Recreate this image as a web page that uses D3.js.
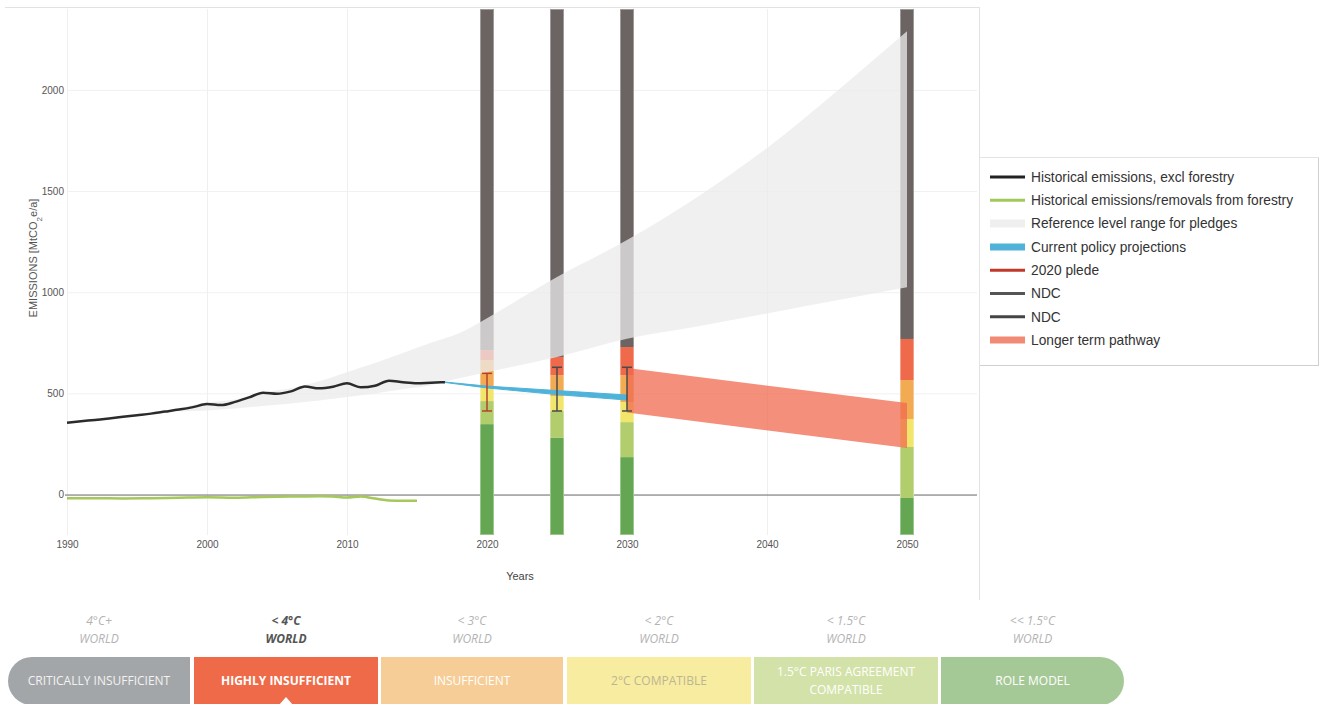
<!DOCTYPE html>
<meta charset="utf-8">
<style>
body { margin: 0; background: #fff; }
svg { display: block; font-family: "Liberation Sans", Arial, sans-serif; }
.axis text { fill: #555; font-size: 10px; }
.axis .domain { display: none; }
.rating text { font-family: "Open Sans", sans-serif; }
</style>
<body>
<svg width="1325" height="704"></svg>
<script src="https://cdnjs.cloudflare.com/ajax/libs/d3/7.8.5/d3.min.js"></script>
<script>
// historical emissions excl forestry
var histYears = [1990,1991,1992,1993,1994,1995,1996,1997,1998,1999,2000,2001,2002,2003,2004,2005,2006,2007,2008,2009,2010,2011,2012,2013,2014,2015,2016,2017];
var histValues = [355,362,369,376,384,392,400,410,420,432,447,442,458,480,503,498,510,534,525,533,550,530,538,563,555,550,553,555];

// forestry
var forYears = [1990,1992,1994,1996,1998,2000,2002,2004,2006,2008,2009,2010,2011,2012,2013,2014,2015];
var forValues = [-18,-18,-19,-18,-16,-14,-16,-12,-10,-8,-10,-15,-10,-20,-29,-31,-31];

// reference level range
var bandYears = [1998,2000,2002,2004,2006,2008,2010,2012,2014,2016,2018,2020,2025,2030,2035,2040,2045,2050];
var bandLow = [410,415,425,438,450,465,482,500,520,540,575,605,680,770,830,895,960,1025];
var bandHigh = [428,455,470,505,525,560,605,650,700,750,797,872,1075,1258,1470,1713,1995,2290];

// current policy projections
var cppYears = [2017,2020,2025,2030];
var cppLow = [554,527,494,467];
var cppHigh = [556,536,514,492];

// stacked rating bars (top of each band)
var barYears = [2020,2025,2030,2050];
var darkGreenTop = [348,280,185,-17];
var lightGreenTop = [462,413,358,235];
var yellowTop = [531,487,457,373];
var orangeTop = [664,590,590,566];
var redTop = [714,680,729,769];

// pledges / NDC ranges
var errYears = [2020,2025,2030];
var errLow = [413,413,413];
var errHigh = [599,629,629];
var errColours = ["#b5432c","#4a4a4a","#4a4a4a"];

// longer term pathway
var ltpYears = [2030,2050];
var ltpLow = [405,230];
var ltpHigh = [625,452];

var legendNames = ["Historical emissions, excl forestry","Historical emissions/removals from forestry","Reference level range for pledges","Current policy projections","2020 plede","NDC","NDC","Longer term pathway"];

var ratingNames = ["CRITICALLY INSUFFICIENT","HIGHLY INSUFFICIENT","INSUFFICIENT","2°C COMPATIBLE","1.5°C PARIS AGREEMENT|COMPATIBLE","ROLE MODEL"];
var ratingTemps = ["4°C+","< 4°C","< 3°C","< 2°C","< 1.5°C","<< 1.5°C"];

var svg = d3.select("svg");

var x = d3.scaleLinear().domain([1990, 2055]).range([67, 977]);
var y = d3.scaleLinear().domain([-200, 2400]).range([535, 9]);

// container border
svg.append("line").attr("x1", 5).attr("x2", 979).attr("y1", 7.5).attr("y2", 7.5)
    .attr("stroke", "#e2e2e2");
svg.append("line").attr("x1", 979.5).attr("x2", 979.5).attr("y1", 7).attr("y2", 600)
    .attr("stroke", "#e2e2e2");

var xaxis = svg.append("g")
    .attr("class", "axis")
    .attr("transform", "translate(0," + y(-200) + ")")
    .call(d3.axisBottom(x).tickValues([1990,2000,2010,2020,2030,2040,2050])
        .tickFormat(d3.format("d")).tickSize(-(y(-200) - y(2400))).tickPadding(6));
xaxis.selectAll("line").attr("stroke", "#efefef");

var yaxis = svg.append("g")
    .attr("class", "axis")
    .attr("transform", "translate(" + x(1990) + ",0)")
    .call(d3.axisLeft(y).tickValues([0,500,1000,1500,2000])
        .tickFormat(d3.format("d"))
        .tickSize(-(x(2055) - x(1990))).tickPadding(3));
yaxis.selectAll("line").attr("stroke", "#f1f1f1");
yaxis.selectAll(".tick").filter(function(d){ return d == 0; }).select("line")
    .attr("stroke", "#666").attr("x1", -2);

// axis titles
var ytitle = svg.append("text")
    .attr("transform", "translate(37," + 258 + ") rotate(-90)")
    .attr("text-anchor", "middle")
    .attr("fill", "#555")
    .style("font-size", "11px");
ytitle.append("tspan").text("EMISSIONS [MtCO");
ytitle.append("tspan").text("2").attr("baseline-shift", "sub").style("font-size", "8px");
ytitle.append("tspan").text("e/a]");

svg.append("text").attr("x", 520).attr("y", 580)
    .attr("text-anchor", "middle").attr("fill", "#444")
    .style("font-size", "11px").text("Years");

// stacked bars
var segColours = ["#64a651","#b1cd6c","#f2e56b","#f2ab53","#ef6a4b","#6b6463"];
var segs = [];
barYears.forEach(function(yr, i) {
    var levels = [-200, darkGreenTop[i], lightGreenTop[i], yellowTop[i], orangeTop[i], redTop[i], 2400];
    for (var k = 0; k < 6; k++) {
        segs.push({year: yr, y0: levels[k], y1: levels[k+1], colour: segColours[k]});
    }
});

svg.append("g").selectAll("rect").data(segs).enter().append("rect")
    .attr("x", function(d){ return x(d.year - 0.5); })
    .attr("width", function(d){ return x(d.year + 0.5) - x(d.year - 0.5); })
    .attr("y", function(d){ return y(d.y1); })
    .attr("height", function(d){ return y(d.y0) - y(d.y1); })
    .attr("fill", function(d){ return d.colour; });

svg.append("g").selectAll("rect").data(barYears).enter().append("rect")
    .attr("x", function(d){ return x(d - 0.5) + 0.5; })
    .attr("width", function(d){ return x(d + 0.5) - x(d - 0.5) - 1; })
    .attr("y", y(2400) + 0.5)
    .attr("height", y(-200) - y(2400) - 1)
    .attr("fill", "none")
    .attr("stroke", "rgba(255,255,255,0.35)");

// reference range band
var bandData = bandYears.map(function(d, i){ return {year: d, low: bandLow[i], high: bandHigh[i]}; });
svg.append("path").datum(bandData)
    .attr("fill", "#ebebeb")
    .attr("fill-opacity", 0.75)
    .attr("d", d3.area().curve(d3.curveMonotoneX)
        .x(function(d){ return x(d.year); })
        .y0(function(d){ return y(d.low); })
        .y1(function(d){ return y(d.high); }));

// historical lines
var line = d3.line().curve(d3.curveMonotoneX)
    .x(function(d){ return x(d[0]); })
    .y(function(d){ return y(d[1]); });

svg.append("path").datum(forYears.map(function(d, i){ return [d, forValues[i]]; }))
    .attr("fill", "none").attr("stroke", "#a5c85a").attr("stroke-width", 2.5)
    .attr("d", line);

svg.append("path").datum(histYears.map(function(d, i){ return [d, histValues[i]]; }))
    .attr("fill", "none").attr("stroke", "#2b2b2b").attr("stroke-width", 2.5)
    .attr("d", line);

// current policy projections
var cppData = cppYears.map(function(d, i){ return {year: d, low: cppLow[i], high: cppHigh[i]}; });
svg.append("path").datum(cppData)
    .attr("fill", "#4fb3d9")
    .attr("stroke", "#4fb3d9")
    .attr("stroke-width", 1)
    .attr("d", d3.area()
        .x(function(d){ return x(d.year); })
        .y0(function(d){ return y(d.low); })
        .y1(function(d){ return y(d.high); }));

// longer term pathway
var ltpData = ltpYears.map(function(d, i){ return {year: d, low: ltpLow[i], high: ltpHigh[i]}; });
svg.append("path").datum(ltpData)
    .attr("fill", "#f06a50")
    .attr("fill-opacity", 0.75)
    .attr("d", d3.area()
        .x(function(d){ return x(d.year); })
        .y0(function(d){ return y(d.low); })
        .y1(function(d){ return y(d.high); }));

// error bars
var errs = svg.append("g").selectAll("g").data(errYears).enter().append("g")
    .attr("stroke", function(d, i){ return errColours[i]; })
    .attr("stroke-width", 1.5);
errs.append("line")
    .attr("x1", function(d){ return x(d); }).attr("x2", function(d){ return x(d); })
    .attr("y1", function(d, i){ return y(errLow[i]); })
    .attr("y2", function(d, i){ return y(errHigh[i]); });
errs.append("line")
    .attr("x1", function(d){ return x(d) - 5; }).attr("x2", function(d){ return x(d) + 5; })
    .attr("y1", function(d, i){ return y(errLow[i]); })
    .attr("y2", function(d, i){ return y(errLow[i]); });
errs.append("line")
    .attr("x1", function(d){ return x(d) - 5; }).attr("x2", function(d){ return x(d) + 5; })
    .attr("y1", function(d, i){ return y(errHigh[i]); })
    .attr("y2", function(d, i){ return y(errHigh[i]); });

// legend
var legend = svg.append("g").attr("transform", "translate(979,157)");
legend.append("rect").attr("x", 0.5).attr("y", 0.5).attr("width", 339).attr("height", 208)
    .attr("fill", "#fff").attr("stroke", "#e4e4e4");
legend.append("line").attr("x1", 339.5).attr("x2", 339.5).attr("y1", 1).attr("y2", 209)
    .attr("stroke", "#cfcfcf");
legend.append("line").attr("x1", 1).attr("x2", 340).attr("y1", 208.5).attr("y2", 208.5)
    .attr("stroke", "#cfcfcf");
var swatchColours = ["#222","#a5c85a","#efefef","#4fb3d9","#c0392b","#555","#444","#f28b76"];
var swatchWidths = [3,3,8,7,3,3,3,7];
var items = legend.selectAll("g.item").data(legendNames).enter().append("g")
    .attr("class", "item")
    .attr("transform", function(d, i){ return "translate(0," + (20 + i * 23.3) + ")"; });
items.append("line")
    .attr("x1", 11).attr("x2", 46)
    .attr("stroke", function(d, i){ return swatchColours[i]; })
    .attr("stroke-width", function(d, i){ return swatchWidths[i]; });
items.append("text")
    .attr("x", 52).attr("dy", "0.35em")
    .attr("fill", "#333")
    .style("font-size", "13.75px")
    .text(function(d){ return d; });

// rating bar
var ratingX = [8,194,381,567,754,941];
var ratingW = [182,184,182,184,184,183];
var ratingFill = ["#a3a6a8","#ef6a48","#f6cd96","#f8eca0","#d3e2a8","#a5c996"];
var ratingText = ["#f2f2f2","#fff","#fff","#bdb593","#fff","#fff"];
var rating = svg.append("g").attr("class", "rating");
var ry = 657, rh = 48;
ratingNames.forEach(function(name, i) {
    var g = rating.append("g");
    if (i == 0 || i == 5) {
        g.append("rect").attr("x", ratingX[i]).attr("y", ry).attr("width", ratingW[i])
            .attr("height", rh).attr("rx", 24).attr("fill", ratingFill[i]);
        g.append("rect").attr("x", i == 0 ? ratingX[i] + 40 : ratingX[i]).attr("y", ry)
            .attr("width", ratingW[i] - 40).attr("height", rh).attr("fill", ratingFill[i]);
    } else {
        g.append("rect").attr("x", ratingX[i]).attr("y", ry).attr("width", ratingW[i])
            .attr("height", rh).attr("fill", ratingFill[i]);
    }
    var cx = ratingX[i] + ratingW[i] / 2;
    var lines = name.split("|");
    lines.forEach(function(l, j) {
        g.append("text")
            .attr("x", cx)
            .attr("y", lines.length == 1 ? 685 : 676 + j * 18)
            .attr("text-anchor", "middle")
            .attr("fill", ratingText[i])
            .style("font-size", "12px")
            .style("font-weight", i == 1 ? "bold" : "normal")
            .text(l);
    });
    var t = rating.append("text")
        .attr("text-anchor", "middle")
        .attr("fill", i == 1 ? "#555" : "#b3b3b3")
        .style("font-size", "12px")
        .style("font-style", "italic")
        .style("font-weight", i == 1 ? "bold" : "normal");
    t.append("tspan").attr("x", cx).attr("y", 625).text(ratingTemps[i]);
    t.append("tspan").attr("x", cx).attr("y", 643).text("WORLD");
});
rating.append("path")
    .attr("d", "M279,705 L286,697 L293,705 Z")
    .attr("fill", "#fff");
</script>
</body>
